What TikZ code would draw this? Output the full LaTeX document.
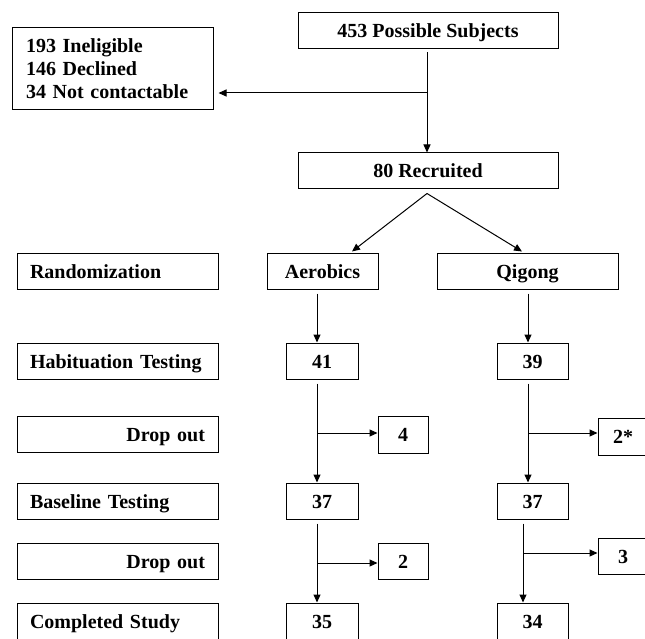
\documentclass[tikz,border=0pt]{standalone}
\usepackage{fontspec}
\setmainfont{Liberation Serif}
\usetikzlibrary{arrows.meta,calc}
\begin{document}
\begin{tikzpicture}[x=1pt,y=-1pt,
  boxbase/.style={draw,line width=1pt,minimum height=36pt,inner sep=0pt,
    font=\fontsize{20}{23}\selectfont\bfseries},
  box/.style={boxbase,text height=14pt,text depth=0pt},
  lbl/.style={box,minimum width=201pt,text width=175pt,align=left},
  lblr/.style={lbl,align=right},
  arr/.style={line width=1pt,-{Triangle[length=8pt,width=7pt]}}]
\clip (0,0) rectangle (645,639);
\fill[white] (0,0) rectangle (645,639);
% top part
\node[box,minimum width=260pt] (top) at (428,31) {453 Possible Subjects};
\node[boxbase,minimum width=201pt,minimum height=82pt,text width=173pt,align=left] (excl) at (112.5,69)
  {193 Ineligible\\146 Declined\\34 Not contactable};
\node[box,minimum width=260pt] (rec) at (428,171) {80 Recruited};
% row labels
\node[lbl] (rand) at (117.5,271) {Randomization};
\node[lbl] (hab) at (117.5,361) {Habituation Testing};
\node[lblr] (drop1) at (117.5,434.5) {Drop out};
\node[lbl] (base) at (117.5,501) {Baseline Testing};
\node[lblr] (drop2) at (117.5,561) {Drop out};
\node[lbl] (comp) at (117.5,621) {Completed Study};
% group columns
\node[box,minimum width=111pt] (aer) at (322.5,271) {Aerobics};
\node[box,minimum width=181pt] (qig) at (527.5,271) {Qigong};
\node[box,minimum width=72pt] (h41) at (322,361) {41};
\node[box,minimum width=71pt] (h39) at (532.5,361) {39};
\node[box,minimum width=50pt,minimum height=37pt] (d4) at (403,434.5) {4};
\node[box,minimum width=50pt,minimum height=37pt] (d2s) at (623,436.5) {2*};
\node[box,minimum width=72pt] (b37a) at (322,501) {37};
\node[box,minimum width=71pt] (b37q) at (532.5,501) {37};
\node[box,minimum width=50pt] (d2) at (403,561) {2};
\node[box,minimum width=50pt] (d3) at (623,556) {3};
\node[box,minimum width=72pt] (c35) at (322,621) {35};
\node[box,minimum width=71pt] (c34) at (532.5,621) {34};
% helper coordinates
\coordinate (cT) at (427,0);
\coordinate (cA) at (317,0);
\coordinate (cQ) at (528,0);
\coordinate (cQ2) at (523,0);
\coordinate (j0) at (427,93);
\coordinate (apex) at ($(rec.south)+(-1,4)$);
\coordinate (j1) at (317,433);
\coordinate (j2) at (528,433);
\coordinate (j3) at (317,563);
\coordinate (j4) at (523,553);
% connectors
\draw[arr] ($(top.south -| cT)+(0,3)$) -- (rec.north -| cT);
\draw[arr] (j0) -- ($(j0 -| excl.east)+(5,0)$);
\draw[arr] (apex) -- ($(aer.north)+(29.5,-1)$);
\draw[arr] (apex) -- ($(qig.north)+(-5.5,-1)$);
\draw[arr] ($(aer.south -| cA)+(0,4)$) -- (h41.north -| cA);
\draw[arr] ($(h41.south -| cA)+(0,4)$) -- (b37a.north -| cA);
\draw[arr] (j1) -- (j1 -| d4.west);
\draw[arr] ($(b37a.south -| cA)+(0,4)$) -- (c35.north -| cA);
\draw[arr] (j3) -- (j3 -| d2.west);
\draw[arr] ($(qig.south -| cQ)+(0,4)$) -- (h39.north -| cQ);
\draw[arr] ($(h39.south -| cQ)+(0,4)$) -- (b37q.north -| cQ);
\draw[arr] (j2) -- (j2 -| d2s.west);
\draw[arr] ($(b37q.south -| cQ2)+(0,4)$) -- (c34.north -| cQ2);
\draw[arr] (j4) -- (j4 -| d3.west);
\end{tikzpicture}
\end{document}
